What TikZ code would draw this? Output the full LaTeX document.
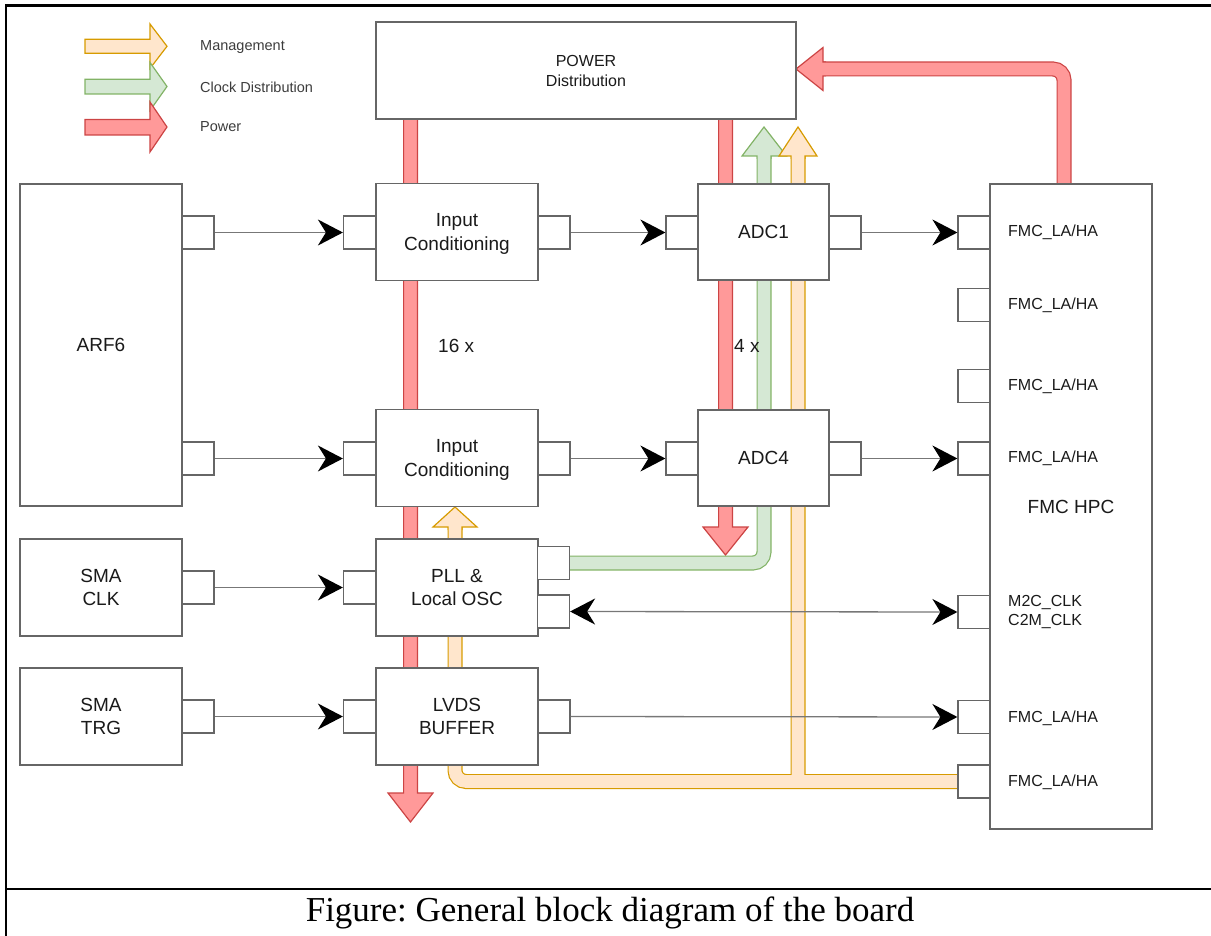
\documentclass[tikz,border=0pt]{standalone}
\usepackage{fontspec}
\setmainfont{Liberation Sans}
\newfontfamily\capfont{Liberation Serif}
\usetikzlibrary{arrows.meta}
\frenchspacing

\definecolor{redF}{HTML}{FF9999}
\definecolor{redD}{HTML}{CC4444}
\definecolor{grnF}{HTML}{D5E8D4}
\definecolor{grnD}{HTML}{82B366}
\definecolor{orgF}{HTML}{FFE6CC}
\definecolor{orgD}{HTML}{D79B00}
\definecolor{edge}{HTML}{666666}
\definecolor{wire}{HTML}{777777}
\definecolor{ink}{HTML}{1A1A1A}

\tikzset{
  blk/.style={draw=edge, line width=1.2pt, fill=white, inner sep=0pt, align=center,
    text=ink, text depth=0pt, font=\fontsize{19}{23.5}\selectfont},
  wide/.style={minimum width=162pt, minimum height=97pt},
  port/.style={draw=edge, line width=1.2pt, fill=white, minimum width=32pt,
    minimum height=33pt, inner sep=0pt},
  conn/.style={draw=wire, line width=1.3pt,
    -{Stealth[length=25pt, width=26pt, inset=8pt, black]}},
  biconn/.style={draw=wire, line width=1.3pt,
    {Stealth[length=25pt, width=26pt, inset=8pt, black]}-{Stealth[length=25pt, width=26pt, inset=8pt, black]}},
  pinlbl/.style={anchor=west, inner sep=0pt, text=ink, align=left,
    font=\fontsize{16}{19}\selectfont},
  txt/.style={inner sep=0pt, text=ink, font=\fontsize{19}{23}\selectfont},
  legtxt/.style={anchor=west, inner sep=0pt, text=ink!85, font=\fontsize{14.5}{17}\selectfont},
  % wide band made of an outline and a light core
  band/.style={line width=1.2pt, double distance=12.6pt, rounded corners=11pt, line cap=butt},
  redband/.style={band, draw=redD, double=redF},
  grnband/.style={band, draw=grnD, double=grnF},
  orgband/.style={band, draw=orgD, double=orgF},
  redhead/.style={fill=redF, draw=redD, line width=1.2pt, line join=miter},
  grnhead/.style={fill=grnF, draw=grnD, line width=1.2pt, line join=miter},
  orghead/.style={fill=orgF, draw=orgD, line width=1.2pt, line join=miter},
}

\begin{document}
\begin{tikzpicture}[x=1pt, y=-1pt]
\useasboundingbox (0,0) rectangle (1211,936);

% ---------- legend ----------
\filldraw[orghead] (85,39.3) -- (150,39.3) -- (150,24) -- (167,46.3) -- (150,68.5) -- (150,53.3) -- (85,53.3) -- cycle;
\filldraw[grnhead] (85,79.3) -- (150,79.3) -- (150,62.5) -- (167,86.5) -- (150,110.5) -- (150,94) -- (85,94) -- cycle;
\filldraw[redhead] (85,119.5) -- (150,119.5) -- (150,102) -- (167,127) -- (150,152) -- (150,135) -- (85,135) -- cycle;
\node[legtxt] (lgm) at (200,47) {Management};
\node[legtxt] (lgc) at (200,87) {Clock Distribution};
\node[legtxt] (lgp) at (200,127) {Power};

% ---------- power rails ----------
\filldraw[redhead] (403.6,119) -- (403.6,793) -- (388,793) -- (410.5,822) -- (433,793) -- (417.4,793) -- (417.4,119) -- cycle;
\filldraw[redhead] (718.6,119) -- (718.6,527) -- (703,527) -- (725.5,555) -- (748,527) -- (732.4,527) -- (732.4,119) -- cycle;
\draw[redband] (1064,184) -- (1064,69) -- (823,69);
\filldraw[redhead] (826,62.1) -- (823,62.1) -- (823,47.5) -- (796,69) -- (823,90.5) -- (823,75.9) -- (826,75.9);

% ---------- clock distribution ----------
\draw[grnband] (569,563) -- (764,563) -- (764,156);
\filldraw[grnhead] (757.1,159) -- (757.1,156) -- (742,156) -- (764,127) -- (786.5,156) -- (770.9,156) -- (770.9,159);

% ---------- management ----------
\draw[orgband] (958,781.5) -- (455,781.5) -- (455,527) (798,781.5) -- (798,156);
\filldraw[orghead] (791.1,159) -- (791.1,156) -- (779,156) -- (798,127) -- (817,156) -- (804.9,156) -- (804.9,159);
\filldraw[orghead] (448.1,530) -- (448.1,527) -- (433,527) -- (455,507) -- (477,527) -- (461.9,527) -- (461.9,530);

% ---------- blocks ----------
\node[blk, minimum width=420pt, minimum height=97pt, font=\fontsize{16}{20}\selectfont] (pwr) at (586,70.5) {POWER\\Distribution};
\node[blk, minimum width=162pt, minimum height=322pt] (arf) at (101,345) {ARF6};
\node[blk, wide] (smaclk) at (101,587.5) {SMA\\CLK};
\node[blk, wide] (smatrg) at (101,716.5) {SMA\\TRG};
\node[blk, wide] (ic1) at (457,232) {Input\\Conditioning};
\node[blk, wide] (ic2) at (457,458) {Input\\Conditioning};
\node[blk, wide] (pll) at (457,587.5) {PLL \&\\Local OSC};
\node[blk, wide] (lvds) at (457,716.5) {LVDS\\BUFFER};
\node[blk, minimum width=131pt, minimum height=96pt] (adc1) at (763.5,232) {ADC1};
\node[blk, minimum width=131pt, minimum height=96pt] (adc4) at (763.5,458) {ADC4};
\node[blk, minimum width=162pt, minimum height=645pt, font=\fontsize{19}{22}\selectfont] (fmc) at (1071,506.5) {FMC HPC};

% ---------- ports ----------
\node[port] (arfp1) at (198,232.5) {};
\node[port] (arfp2) at (198,458.5) {};
\node[port] (clkp) at (198,587.5) {};
\node[port] (trgp) at (198,716.5) {};
\node[port] (ic1l) at (359.5,232.5) {};
\node[port] (ic1r) at (554,232.5) {};
\node[port] (ic2l) at (359.5,458.5) {};
\node[port] (ic2r) at (554,458.5) {};
\node[port] (plll) at (359.5,587.5) {};
\node[port] (pllr1) at (553.5,563) {};
\node[port] (pllr2) at (553.5,611.5) {};
\node[port] (lvdsl) at (359.5,716.5) {};
\node[port] (lvdsr) at (554,716.5) {};
\node[port] (adc1l) at (682,232.5) {};
\node[port] (adc1r) at (845,232.5) {};
\node[port] (adc4l) at (682,458.5) {};
\node[port] (adc4r) at (845,458.5) {};
\node[port] (fp1) at (974,232.5) {};
\node[port] (fp2) at (974,305) {};
\node[port] (fp3) at (974,386) {};
\node[port] (fp4) at (974,458.5) {};
\node[port] (fp5) at (974,612) {};
\node[port] (fp6) at (974,717) {};
\node[port] (fp7) at (974,781.5) {};

% ---------- signal connectors ----------
\draw[conn] (arfp1.east) -- (ic1l.west);
\draw[conn] (arfp2.east) -- (ic2l.west);
\draw[conn] (ic1r.east) -- (adc1l.west);
\draw[conn] (ic2r.east) -- (adc4l.west);
\draw[conn] (adc1r.east) -- (fp1.west);
\draw[conn] (adc4r.east) -- (fp4.west);
\draw[conn] (clkp.east) -- (plll.west);
\draw[biconn] (pllr2.east) -- (fp5.west);
\draw[conn] (trgp.east) -- (lvdsl.west);
\draw[conn] (lvdsr.east) -- (fp6.west);

% ---------- labels ----------
\node[txt, anchor=west] (n16) at (438,346) {16 x};
\node[txt, anchor=west] (n4) at (734,346) {4 x};
\node[pinlbl] (fl1) at (1008,232.5) {FMC\_LA/HA};
\node[pinlbl] (fl2) at (1008,305) {FMC\_LA/HA};
\node[pinlbl] (fl3) at (1008,386) {FMC\_LA/HA};
\node[pinlbl] (fl4) at (1008,458.5) {FMC\_LA/HA};
\node[pinlbl] (fl5) at (1008,612) {M2C\_CLK\\C2M\_CLK};
\node[pinlbl] (fl6) at (1008,718) {FMC\_LA/HA};
\node[pinlbl] (fl7) at (1008,782) {FMC\_LA/HA};

% ---------- frame and caption ----------
\draw[line width=2.5pt] (6,936) -- (6,5.5) -- (1211,5.5);
\draw[line width=2.5pt] (6,889) -- (1211,889);
\node[inner sep=0pt, font=\capfont\fontsize{35}{40}\selectfont] (cap) at (610,913) {Figure: General block diagram of the board};
\end{tikzpicture}
\end{document}
